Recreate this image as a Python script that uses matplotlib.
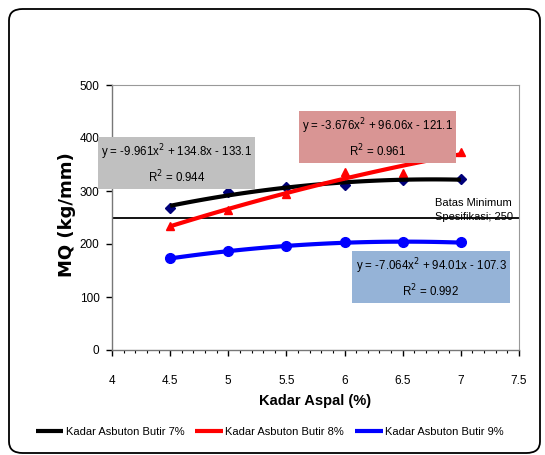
import matplotlib

matplotlib.use("Agg")
import matplotlib.pyplot as plt
import numpy as np
from matplotlib.patches import FancyBboxPatch

plt.rcParams["font.family"] = ["Liberation Sans Narrow", "Liberation Sans", "DejaVu Sans"]

kadar_aspal = [4.5, 5.0, 5.5, 6.0, 6.5, 7.0]
mq_butir7 = [268, 299, 307, 311, 321, 323]
mq_butir8 = [234, 264, 294, 336, 334, 374]
mq_butir9 = [173, 186, 196, 204, 203, 203]
series_names = ["Kadar Asbuton Butir 7%", "Kadar Asbuton Butir 8%", "Kadar Asbuton Butir 9%"]
equations = [
    "y = -9.961x$^2$ + 134.8x - 133.1\nR$^2$ = 0.944",
    "y = -3.676x$^2$ + 96.06x - 121.1\nR$^2$ = 0.961",
    "y = -7.064x$^2$ + 94.01x - 107.3\nR$^2$ = 0.992",
]
batas = 250

fig = plt.figure(figsize=(5.45, 4.55), dpi=100)
ax = fig.add_axes([112 / 545, 1 - 350 / 455, 407 / 545, 265 / 455])

frame = FancyBboxPatch((9 / 545, 2 / 455), 531 / 545, 444 / 455,
                       boxstyle="round,pad=0,rounding_size=0.025",
                       transform=fig.transFigure, facecolor="none",
                       edgecolor="black", linewidth=1.3, zorder=-1)
fig.patches.append(frame)

xs = np.array(kadar_aspal)
xfine = np.linspace(xs.min(), xs.max(), 60)
styles = [
    (mq_butir7, "black", "D", "#00007a", 5),
    (mq_butir8, "red", "^", "red", 6),
    (mq_butir9, "blue", "o", "blue", 7),
]
handles = []
for (vals, lc, mk, mc, ms), name in zip(styles, series_names):
    ax.plot(xs, vals, linestyle="none", marker=mk, color=mc, markersize=ms, zorder=3)
    coef = np.polyfit(xs, vals, 2)
    (h,) = ax.plot(xfine, np.polyval(coef, xfine), color=lc, linewidth=3, zorder=4,
                   solid_capstyle="butt", label=name)
    handles.append(h)

ax.axhline(batas, color="black", linewidth=1.3, zorder=2)
ax.text(6.78, 264, "Batas Minimum\nSpesifikasi; 250", ha="left", va="center",
        fontsize=8, linespacing=1.5, clip_on=False)

box_specs = [
    (4.555, 351, "#c0c0c0"),
    (6.283, 400, "#d99594"),
    (6.743, 136, "#95b3d7"),
]
for (bx, by, bc), eq in zip(box_specs, equations):
    ax.text(bx, by, eq, ha="center", va="center", fontsize=8.3, linespacing=1.45,
            zorder=5, bbox=dict(boxstyle="square,pad=0.3", facecolor=bc, edgecolor="none"))

ax.set_xlim(4, 7.5)
ax.set_ylim(0, 500)
ax.set_xticks(np.arange(4, 7.51, 0.5))
ax.set_xticklabels(["4", "4.5", "5", "5.5", "6", "6.5", "7", "7.5"])
ax.set_xticks(np.arange(4, 7.51, 0.1), minor=True)
ax.set_yticks(np.arange(0, 501, 100))
ax.tick_params(axis="both", direction="out", labelsize=8.5, width=1, length=4, pad=5)
ax.tick_params(axis="x", which="minor", direction="out", length=2.5, width=0.8)
ax.tick_params(axis="x", pad=14)

for side in ["top", "right"]:
    ax.spines[side].set_color("#999999")
    ax.spines[side].set_linewidth(0.8)
for side in ["left", "bottom"]:
    ax.spines[side].set_color("#777777")
    ax.spines[side].set_linewidth(1)

ax.set_xlabel("Kadar Aspal (%)", fontsize=10.5, fontweight="bold", labelpad=5)
fig.text(67 / 545, 1 - 215 / 455, "MQ (kg/mm)", rotation=90, ha="center", va="center",
         fontsize=13, fontweight="bold", family="DejaVu Sans")

fig.legend(handles=handles, loc="center", bbox_to_anchor=(0.495, 1 - 432 / 455), ncol=3,
           frameon=False, fontsize=8, handlelength=2.5, handletextpad=0.2,
           columnspacing=1.0)

fig.savefig("out.png", dpi=100)
